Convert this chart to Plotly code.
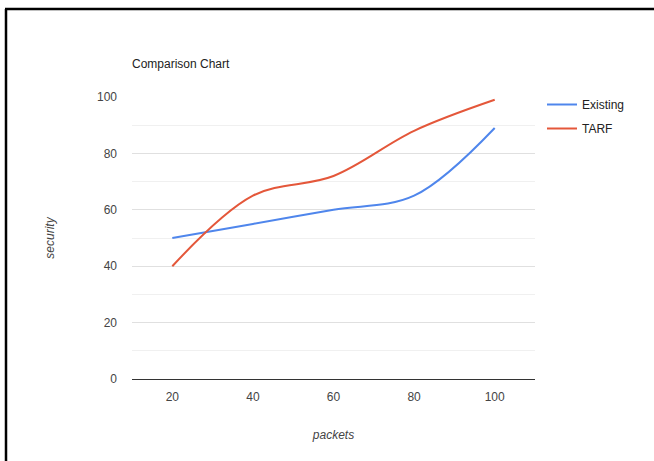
import plotly.graph_objects as go

packets = [20, 40, 60, 80, 100]
existing = [50, 55, 60, 65, 89]
tarf = [40, 65, 72, 88, 99]
series_names = ["Existing", "TARF"]
y_ticks = [0, 20, 40, 60, 80, 100]
x_ticks = [20, 40, 60, 80, 100]

W, H = 654, 461
L, R, T, B = 132, 119, 97, 82
pw, ph = W - L - R, H - T - B

def px_x(p):
    return (p - L) / pw

def px_y(p):
    return (H - B - p) / ph

fig = go.Figure()
fig.add_trace(go.Scatter(x=packets, y=existing, name=series_names[0], mode="lines",
                         legendgroup="g1",
                         line=dict(color="#4F86EC", width=2, shape="spline", smoothing=1)))
fig.add_trace(go.Scatter(x=packets, y=tarf, name=series_names[1], mode="lines",
                         legendgroup="g2",
                         line=dict(color="#E4573A", width=2, shape="spline", smoothing=1)))

font_family = "Liberation Sans, Arial, sans-serif"

fig.update_layout(
    width=W, height=H,
    margin=dict(l=L, r=R, t=T, b=B, pad=0),
    paper_bgcolor="white", plot_bgcolor="white",
    font=dict(family=font_family, size=12, color="#444"),
    title=dict(text="Comparison Chart", x=px_x(132), xref="paper", xanchor="left",
               y=1 - 64 / H, yref="container", yanchor="middle",
               font=dict(size=12, color="#222", family=font_family)),
    xaxis=dict(range=[10, 110], tickvals=x_ticks, showgrid=False, zeroline=False,
               showline=False, ticks="", ticklabelstandoff=9,
               tickfont=dict(size=12, color="#444"),
               title=dict(text="<i>packets</i>", standoff=27, font=dict(size=12, color="#444"))),
    yaxis=dict(range=[0, 100], tickvals=y_ticks, showgrid=True, gridcolor="#e0e0e0",
               gridwidth=1, zeroline=True, zerolinecolor="#333", zerolinewidth=1,
               showline=False, ticks="", ticklabelstandoff=14,
               tickfont=dict(size=12, color="#444"),
               minor=dict(dtick=10, showgrid=True, gridcolor="#f0f0f0", gridwidth=1),
               title=dict(text="<i>security</i>", standoff=39, font=dict(size=12, color="#444"))),
    legend=dict(x=px_x(542), y=px_y(90), xanchor="left", yanchor="top",
                font=dict(size=12, color="#222"), bgcolor="rgba(0,0,0,0)",
                tracegroupgap=5),
    showlegend=True,
)

# frame around the picture (top and left edges)
fig.add_shape(type="line", xref="paper", yref="paper",
              x0=px_x(6), y0=px_y(470), x1=px_x(6), y1=px_y(9),
              line=dict(color="black", width=2.5))
fig.add_shape(type="line", xref="paper", yref="paper",
              x0=px_x(5), y0=px_y(9), x1=px_x(660), y1=px_y(9),
              line=dict(color="black", width=2.5))

fig.write_html("out.html", config={"displayModeBar": False},
               post_script="document.body.style.margin='0';document.body.style.overflow='hidden';")
